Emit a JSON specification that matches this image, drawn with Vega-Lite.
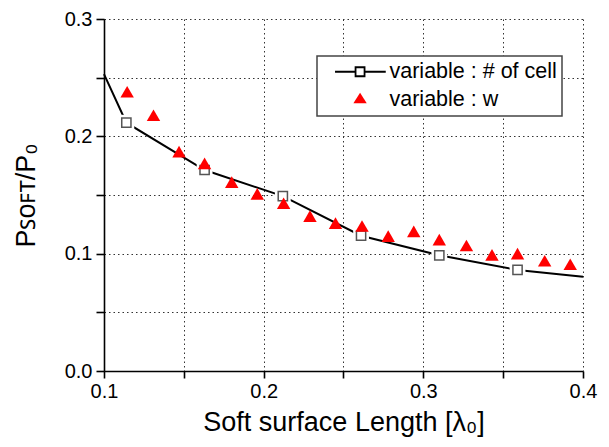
{
  "$schema": "https://vega.github.io/schema/vega-lite/v6.json",
  "width": 479,
  "height": 352,
  "autosize": {"type": "none"},
  "padding": {"left": 104, "top": 19, "right": 26, "bottom": 76},
  "background": "white",
  "config": {"view": {"stroke": null}, "font": "Liberation Sans"},
  "datasets": {
    "curve": [
      {"length": 0.1, "ratio": 0.253},
      {"length": 0.114, "ratio": 0.2116},
      {"length": 0.163, "ratio": 0.1713},
      {"length": 0.212, "ratio": 0.149},
      {"length": 0.261, "ratio": 0.1153},
      {"length": 0.31, "ratio": 0.0986},
      {"length": 0.359, "ratio": 0.0861},
      {"length": 0.4, "ratio": 0.0804}
    ],
    "cell": [
      {"length": 0.114, "ratio": 0.2116},
      {"length": 0.163, "ratio": 0.1713},
      {"length": 0.212, "ratio": 0.149},
      {"length": 0.261, "ratio": 0.1153},
      {"length": 0.31, "ratio": 0.0986},
      {"length": 0.359, "ratio": 0.0861}
    ],
    "w": [
      {"series": "variable : w", "length": 0.1145, "ratio": 0.238},
      {"series": "variable : w", "length": 0.131, "ratio": 0.218},
      {"series": "variable : w", "length": 0.147, "ratio": 0.187},
      {"series": "variable : w", "length": 0.163, "ratio": 0.177},
      {"series": "variable : w", "length": 0.18, "ratio": 0.161},
      {"series": "variable : w", "length": 0.196, "ratio": 0.151},
      {"series": "variable : w", "length": 0.2125, "ratio": 0.143},
      {"series": "variable : w", "length": 0.229, "ratio": 0.132},
      {"series": "variable : w", "length": 0.245, "ratio": 0.126},
      {"series": "variable : w", "length": 0.2616, "ratio": 0.1236},
      {"series": "variable : w", "length": 0.278, "ratio": 0.115},
      {"series": "variable : w", "length": 0.294, "ratio": 0.119},
      {"series": "variable : w", "length": 0.31, "ratio": 0.112},
      {"series": "variable : w", "length": 0.327, "ratio": 0.107},
      {"series": "variable : w", "length": 0.343, "ratio": 0.099},
      {"series": "variable : w", "length": 0.359, "ratio": 0.1},
      {"series": "variable : w", "length": 0.376, "ratio": 0.094},
      {"series": "variable : w", "length": 0.392, "ratio": 0.091}
    ]
  },
  "encoding": {
    "x": {
      "field": "length", "type": "quantitative",
      "scale": {"domain": [0.1, 0.4], "nice": false, "zero": false},
      "axis": {
        "title": "Soft surface Length [λ₀]",
        "values": [0.1, 0.15, 0.2, 0.25, 0.3, 0.35, 0.4],
        "format": ".1f",
        "labelExpr": "abs(datum.value*10 - round(datum.value*10)) < 0.01 ? format(datum.value, '.1f') : ''",
        "grid": true, "gridDash": [1.5, 3], "gridColor": "#333", "gridWidth": 1,
        "domainColor": "black", "domainWidth": 1.6,
        "tickColor": "black", "tickWidth": 1.6, "tickSize": 7,
        "labelFontSize": 20, "labelFont": "Liberation Sans", "labelColor": "black", "labelPadding": 3,
        "labelOverlap": false, "labelFlush": false, "labelBound": false,
        "titleFontSize": 27, "titleFont": "Liberation Sans", "titleFontWeight": "normal", "titleColor": "black", "titlePadding": 8,
        "encode": {
          "grid": {"update": {"strokeOpacity": {"signal": "datum.value > 0.105 && datum.value < 0.395 ? 1 : 0"}}},
          "ticks": {"update": {"y2": {"signal": "abs(datum.value*10 - round(datum.value*10)) < 0.01 ? 7 : 4"}}}
        }
      }
    },
    "y": {
      "field": "ratio", "type": "quantitative",
      "scale": {"domain": [0, 0.3], "nice": false, "zero": false},
      "axis": {
        "title": "Pꜱᴏꜰᴛ/P₀",
        "values": [0, 0.05, 0.1, 0.15, 0.2, 0.25, 0.3],
        "format": ".1f",
        "labelExpr": "abs(datum.value*10 - round(datum.value*10)) < 0.01 ? format(datum.value, '.1f') : ''",
        "grid": true, "gridDash": [1.5, 3], "gridColor": "#333", "gridWidth": 1,
        "domainColor": "black", "domainWidth": 1.6,
        "tickColor": "black", "tickWidth": 1.6, "tickSize": 8,
        "labelFontSize": 20, "labelFont": "Liberation Sans", "labelColor": "black", "labelPadding": 4,
        "labelOverlap": false, "labelFlush": false, "labelBound": false,
        "titleFontSize": 27, "titleFont": "Liberation Sans", "titleFontWeight": "normal", "titleColor": "black", "titlePadding": 24,
        "encode": {
          "grid": {"update": {"strokeOpacity": {"signal": "datum.value > 0.02 && datum.value < 0.28 ? 1 : 0"}}},
          "ticks": {"update": {"x2": {"signal": "abs(datum.value*10 - round(datum.value*10)) < 0.01 ? -8 : -5"}}}
        }
      }
    }
  },
  "layer": [
    {
      "data": {"name": "curve"},
      "mark": {"type": "line", "color": "black", "strokeWidth": 2, "interpolate": "linear"}
    },
    {
      "data": {"name": "cell"},
      "mark": {"type": "point", "shape": "square", "size": 250, "filled": true, "fill": "white", "strokeWidth": 0, "opacity": 1}
    },
    {
      "data": {"name": "cell"},
      "mark": {"type": "point", "shape": "square", "size": 85, "filled": false, "fill": "white", "stroke": "#555", "strokeWidth": 1.5, "opacity": 1, "fillOpacity": 1}
    },
    {
      "data": {"name": "w"},
      "mark": {"type": "point", "shape": "triangle-up", "size": 180, "filled": true, "opacity": 1},
      "encoding": {
        "color": {
          "field": "series", "type": "nominal",
          "scale": {"domain": ["variable : # of cell", "variable : w"], "range": ["white", "#ff0000"]},
          "legend": {
            "title": null,
            "orient": "none", "legendX": 213, "legendY": 37,
            "direction": "vertical",
            "fillColor": "white", "strokeColor": "#444",
            "padding": 5, "rowPadding": 5,
            "symbolSize": 64, "labelOffset": 46,
            "labelFontSize": 21.5, "labelFont": "Liberation Sans", "labelColor": "black",
            "labelLimit": 400,
            "encoding": {
              "legend": {"strokeWidth": {"value": 1.5}},
              "symbols": {
                "shape": {"value": {"expr": "datum.value === 'variable : w' ? 'M6.83,-1.78L8.5,0.89L5.16,0.89Z' : 'M0.57,0H5.7M7.95,0H13.25M5.7,-1.125H7.95V1.125H5.7Z'"}},
                "size": {"value": 64},
                "fill": {"value": {"expr": "datum.value === 'variable : w' ? '#ff0000' : 'white'"}},
                "stroke": {"value": {"expr": "datum.value === 'variable : w' ? '#ff0000' : 'black'"}},
                "strokeWidth": {"value": {"expr": "datum.value === 'variable : w' ? 0 : 1.8"}},
                "opacity": {"value": 1},
                "fillOpacity": {"value": 1}
              }
            }
          }
        }
      }
    }
  ]
}
